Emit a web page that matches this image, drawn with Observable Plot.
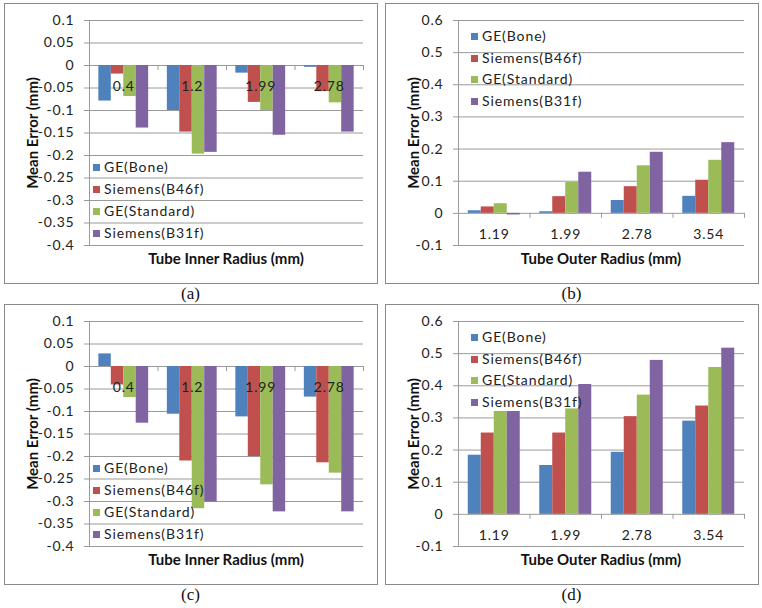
<!DOCTYPE html>
<html>
<head>
<meta charset="utf-8">
<script src="https://cdn.jsdelivr.net/npm/d3@7"></script>
<script src="https://cdn.jsdelivr.net/npm/@observablehq/plot@0.6"></script>
<style>
  html, body { margin: 0; padding: 0; background: #fff; }
  #root { position: relative; width: 762px; height: 608px; overflow: hidden; background: #fff; }
  .panel { position: absolute; }
  .border { position: absolute; box-sizing: border-box; border: 1px solid #8a8a8a; pointer-events: none; }
  .panel svg text { letter-spacing: 0.8px; }
  .xtitle, .ytitle { position: absolute; font-family: Lato, sans-serif; font-weight: bold; font-size: 15px; color: #111; white-space: nowrap; }
  .ytitle { transform: translate(-50%, -50%) rotate(-90deg); }
  .xtitle { transform: translate(-50%, -50%); }
  .cap { position: absolute; font-family: "Liberation Serif", serif; font-size: 17px; color: #111; transform: translate(-50%, -50%); }
  .leg { position: absolute; font-family: Lato, sans-serif; font-size: 14px; color: #222; letter-spacing: 0.9px; white-space: nowrap; }
  .leg .sw { position: absolute; width: 7px; height: 7px; top: -3px; }
  .leg .lt { position: absolute; left: 11px; top: -9px; line-height: 18px; }
</style>
</head>
<body>
<div id="root"></div>
<script>
// ---------- data ----------
const series = ["GE(Bone)", "Siemens(B46f)", "GE(Standard)", "Siemens(B31f)"];
const colors = ["#4F81BD", "#C0504D", "#9BBB59", "#8064A2"];

const innerRadius = ["0.4", "1.2", "1.99", "2.78"];
const outerRadius = ["1.19", "1.99", "2.78", "3.54"];

const innerTicks = [0.1, 0.05, 0, -0.05, -0.1, -0.15, -0.2, -0.25, -0.3, -0.35, -0.4];
const outerTicks = [0.6, 0.5, 0.4, 0.3, 0.2, 0.1, 0, -0.1];

// panel (a): inner radius
const aBone     = [-0.079, -0.100, -0.017, -0.004];
const aB46f     = [-0.019, -0.148, -0.082, -0.058];
const aStandard = [-0.069, -0.197, -0.100, -0.083];
const aB31f     = [-0.139, -0.193, -0.155, -0.148];

// panel (b): outer radius
const bBone     = [0.008, 0.005, 0.040, 0.053];
const bB46f     = [0.020, 0.052, 0.083, 0.103];
const bStandard = [0.030, 0.096, 0.148, 0.165];
const bB31f     = [-0.005, 0.128, 0.190, 0.220];

// panel (c): inner radius
const cBone     = [0.028, -0.106, -0.112, -0.068];
const cB46f     = [-0.041, -0.210, -0.200, -0.214];
const cStandard = [-0.069, -0.316, -0.263, -0.237];
const cB31f     = [-0.126, -0.301, -0.323, -0.323];

// panel (d): outer radius
const dBone     = [0.184, 0.152, 0.193, 0.290];
const dB46f     = [0.253, 0.253, 0.304, 0.337];
const dStandard = [0.320, 0.328, 0.371, 0.457];
const dB31f     = [0.320, 0.404, 0.479, 0.517];

// ---------- layout ----------
const root = document.getElementById("root");
const W = 373, H = 280;

function fmt(d) { return String(+d.toFixed(2)); }

function panel(cfg) {
  const { left, top, cats, ticks, values, xTitle, cap, ml, legTop, legGap, legLeft } = cfg;
  const mr = 14, mt = 17, mb = 38;
  const pw = W - ml - mr, ph = H - mt - mb;
  const ymin = d3.min(ticks), ymax = d3.max(ticks);
  const xPerPx = cats.length / pw;
  const yPerPx = (ymax - ymin) / ph;

  const rows = [];
  values.forEach((arr, j) => arr.forEach((v, i) => rows.push({ cat: cats[i], i, j, s: series[j], v })));

  const plot = Plot.plot({
    width: W, height: H,
    marginLeft: ml, marginRight: mr, marginTop: mt, marginBottom: mb,
    style: { fontFamily: "Lato, sans-serif", fontSize: "14px", color: "#222", background: "transparent" },
    x: { domain: [0, cats.length], axis: null },
    y: { domain: [ymin, ymax], ticks, tickFormat: fmt, tickSize: 0, tickPadding: 15, label: null },
    color: { domain: series, range: colors },
    marks: [
      Plot.ruleY(ticks, { stroke: "#9a9a9a", strokeWidth: 1 }),
      Plot.ruleY(ticks, { x1: -5 * xPerPx, x2: 0, stroke: "#9a9a9a" }),
      Plot.ruleX([0], { y1: ymin, y2: ymax, stroke: "#9a9a9a" }),
      Plot.ruleX(d3.range(1, cats.length + 1), { y1: 0, y2: -5 * yPerPx, stroke: "#9a9a9a" }),
      Plot.rectY(rows, {
        x1: d => d.i + (0.75 + d.j) / 5.5,
        x2: d => d.i + (1.75 + d.j) / 5.5,
        y: "v",
        fill: "s"
      }),
      Plot.text(cats, { x: (d, i) => i + 0.5, y: 0, dy: 21, text: d => d, fill: "#222", fontSize: 14 })
    ]
  });

  const wrap = document.createElement("div");
  wrap.className = "panel";
  wrap.style.left = left + "px"; wrap.style.top = top + "px";
  wrap.style.width = W + "px"; wrap.style.height = H + "px";
  wrap.appendChild(plot);
  root.appendChild(wrap);

  const b = document.createElement("div");
  b.className = "border";
  b.style.left = left + "px"; b.style.top = top + "px";
  b.style.width = (W + 1) + "px"; b.style.height = (H + 1) + "px";
  root.appendChild(b);

  const xt = document.createElement("div");
  xt.className = "xtitle"; xt.textContent = xTitle;
  xt.style.left = (left + ml + pw / 2) + "px"; xt.style.top = (top + 255) + "px";
  root.appendChild(xt);

  const yt = document.createElement("div");
  yt.className = "ytitle"; yt.textContent = "Mean Error (mm)";
  yt.style.left = (left + 28) + "px"; yt.style.top = (top + mt + ph / 2) + "px";
  root.appendChild(yt);

  const c = document.createElement("div");
  c.className = "cap"; c.textContent = cap;
  c.style.left = (left + W / 2) + "px"; c.style.top = (top + H + 11) + "px";
  root.appendChild(c);

  series.forEach((s, j) => {
    const l = document.createElement("div");
    l.className = "leg";
    l.style.left = (left + legLeft) + "px";
    l.style.top = (top + legTop + j * legGap) + "px";
    l.innerHTML = `<span class="sw" style="background:${colors[j]}"></span><span class="lt">${s}</span>`;
    root.appendChild(l);
  });
}

panel({ left: 4, top: 3, cats: innerRadius, ticks: innerTicks,
  values: [aBone, aB46f, aStandard, aB31f], xTitle: "Tube Inner Radius (mm)", cap: "(a)",
  ml: 85, legTop: 164, legGap: 22, legLeft: 89 });
panel({ left: 385, top: 3, cats: outerRadius, ticks: outerTicks,
  values: [bBone, bB46f, bStandard, bB31f], xTitle: "Tube Outer Radius (mm)", cap: "(b)",
  ml: 73, legTop: 33, legGap: 21.5, legLeft: 86 });
panel({ left: 4, top: 304, cats: innerRadius, ticks: innerTicks,
  values: [cBone, cB46f, cStandard, cB31f], xTitle: "Tube Inner Radius (mm)", cap: "(c)",
  ml: 85, legTop: 164, legGap: 22, legLeft: 89 });
panel({ left: 385, top: 304, cats: outerRadius, ticks: outerTicks,
  values: [dBone, dB46f, dStandard, dB31f], xTitle: "Tube Outer Radius (mm)", cap: "(d)",
  ml: 73, legTop: 33, legGap: 21.5, legLeft: 86 });
</script>
</body>
</html>
